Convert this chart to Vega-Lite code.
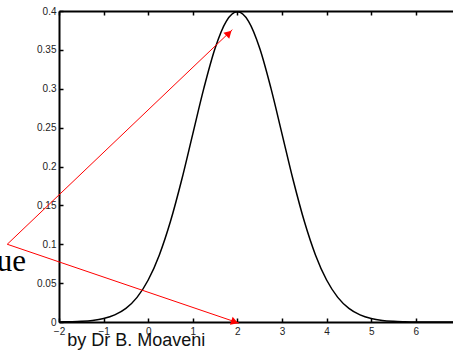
{
  "$schema": "https://vega.github.io/schema/vega-lite/v6.json",
  "width": 394,
  "height": 311,
  "autosize": {"type": "none"},
  "padding": {"left": 59, "top": 11, "right": 0, "bottom": 29},
  "background": "white",
  "config": {
    "view": {"stroke": null},
    "axis": {
      "grid": false,
      "domainColor": "black",
      "domainWidth": 2,
      "tickColor": "black",
      "tickWidth": 1.5,
      "tickSize": -4,
      "labelFont": "Liberation Sans",
      "labelFontSize": 10,
      "labelColor": "#222222",
      "labelPadding": 8,
      "labelOverlap": false,
      "labelFlush": false
    }
  },
  "datasets": {
    "curve": [
      {"x": -2.0, "y": 0.0001},
      {"x": -1.75, "y": 0.0004},
      {"x": -1.5, "y": 0.0009},
      {"x": -1.25, "y": 0.0020},
      {"x": -1.0, "y": 0.0044},
      {"x": -0.75, "y": 0.0091},
      {"x": -0.5, "y": 0.0175},
      {"x": -0.25, "y": 0.0317},
      {"x": 0.0, "y": 0.0540},
      {"x": 0.25, "y": 0.0863},
      {"x": 0.5, "y": 0.1295},
      {"x": 0.75, "y": 0.1826},
      {"x": 1.0, "y": 0.2420},
      {"x": 1.25, "y": 0.3011},
      {"x": 1.5, "y": 0.3521},
      {"x": 1.75, "y": 0.3867},
      {"x": 2.0, "y": 0.3989},
      {"x": 2.25, "y": 0.3867},
      {"x": 2.5, "y": 0.3521},
      {"x": 2.75, "y": 0.3011},
      {"x": 3.0, "y": 0.2420},
      {"x": 3.25, "y": 0.1826},
      {"x": 3.5, "y": 0.1295},
      {"x": 3.75, "y": 0.0863},
      {"x": 4.0, "y": 0.0540},
      {"x": 4.25, "y": 0.0317},
      {"x": 4.5, "y": 0.0175},
      {"x": 4.75, "y": 0.0091},
      {"x": 5.0, "y": 0.0044},
      {"x": 5.25, "y": 0.0020},
      {"x": 5.5, "y": 0.0009},
      {"x": 5.75, "y": 0.0004},
      {"x": 6.0, "y": 0.0001},
      {"x": 6.25, "y": 0.00005},
      {"x": 6.5, "y": 0.00002},
      {"x": 6.834, "y": 0.000003}
    ],
    "arrows": [
      {"x": -3.16, "y": 0.1, "xe": 1.886, "ye": 0.376},
      {"x": -3.16, "y": 0.1, "xe": 2.036, "ye": -0.0015}
    ],
    "heads": [
      {"x": 1.81, "y": 0.3715, "angle": 46},
      {"x": 1.94, "y": 0.0000, "angle": 109}
    ],
    "labels": [
      {"text": "by Dr B. Moaveni", "x": -0.27, "y": -0.0304}
    ],
    "notes": [
      {"text": "Mean value", "x": -2.74, "y": 0.065}
    ]
  },
  "encoding": {
    "y": {"field": "y", "type": "quantitative", "title": null,
          "scale": {"domain": [0, 0.4], "nice": false, "zero": true},
          "axis": {"values": [0, 0.05, 0.1, 0.15, 0.2, 0.25, 0.3, 0.35, 0.4], "format": "~g", "labelPadding": 7, "tickCount": 9}}
  },
  "resolve": {"axis": {"x": "independent"}},
  "layer": [
    {
      "data": {"name": "curve"},
      "mark": {"type": "line", "color": "black", "strokeWidth": 1.5, "interpolate": "monotone"},
      "encoding": {
        "x": {"field": "x", "type": "quantitative", "title": null,
              "scale": {"domain": [-2, 6.834], "nice": false, "zero": false},
              "axis": {"orient": "bottom", "values": [-2, -1, 0, 1, 2, 3, 4, 5, 6], "format": "d"}}
      }
    },
    {
      "data": {"name": "curve"},
      "mark": {"type": "line", "opacity": 0},
      "encoding": {
        "x": {"field": "x", "type": "quantitative", "title": null,
              "axis": {"orient": "top", "values": [-2, -1, 0, 1, 2, 3, 4, 5, 6], "labels": false}}
      }
    },
    {
      "data": {"name": "arrows"},
      "mark": {"type": "rule", "color": "#ff0000", "strokeWidth": 1},
      "encoding": {
        "x": {"field": "x", "type": "quantitative", "title": null, "axis": null},
        "x2": {"field": "xe"},
        "y2": {"field": "ye"}
      }
    },
    {
      "data": {"name": "heads"},
      "mark": {"type": "point", "shape": "triangle-up", "filled": true, "color": "#ff0000", "size": 70, "opacity": 1},
      "encoding": {
        "x": {"field": "x", "type": "quantitative", "title": null, "axis": null},
        "angle": {"field": "angle", "type": "quantitative", "scale": null}
      }
    },
    {
      "data": {"name": "labels"},
      "mark": {"type": "text", "font": "Liberation Sans", "fontSize": 18, "align": "center", "baseline": "alphabetic", "color": "#111111"},
      "encoding": {
        "x": {"field": "x", "type": "quantitative", "title": null, "axis": null},
        "text": {"field": "text"}
      }
    },
    {
      "data": {"name": "notes"},
      "mark": {"type": "text", "font": "Liberation Serif", "fontSize": 31, "align": "right", "baseline": "alphabetic", "color": "black"},
      "encoding": {
        "x": {"field": "x", "type": "quantitative", "title": null, "axis": null},
        "text": {"field": "text"}
      }
    }
  ]
}
